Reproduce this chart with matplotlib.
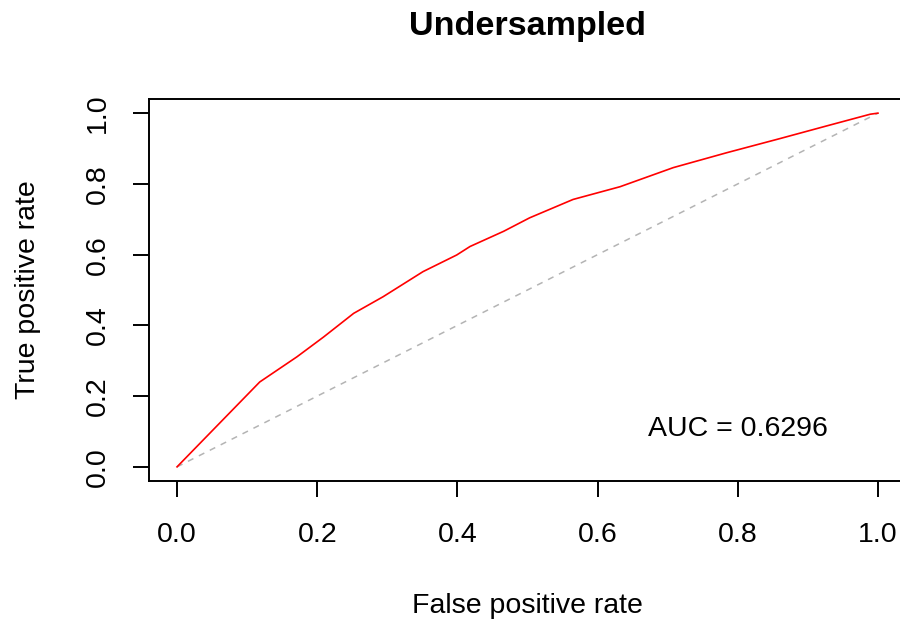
import numpy as np
import matplotlib
matplotlib.use('Agg')
import matplotlib.pyplot as plt

# ROC curve
fpr = [0.0, 0.118, 0.171, 0.209, 0.252, 0.294, 0.351, 0.399, 0.418, 0.466,
       0.503, 0.565, 0.632, 0.708, 0.784, 0.860, 0.927, 0.989, 1.0]
tpr = [0.0, 0.240, 0.311, 0.367, 0.434, 0.481, 0.552, 0.599, 0.623, 0.666,
       0.704, 0.756, 0.792, 0.846, 0.888, 0.928, 0.964, 0.997, 1.0]
auc = 0.6296
ticks = [0.0, 0.2, 0.4, 0.6, 0.8, 1.0]

plt.rcParams['font.family'] = ['Liberation Sans', 'DejaVu Sans']
fs = 20.5

fig = plt.figure(figsize=(9, 6.22), dpi=100)
ax = fig.add_axes([149 / 900, 1 - 481 / 622, 757 / 900, 382 / 622])

ax.plot([0, 1], [0, 1], color='#b4b4b4', lw=1.1, dashes=(4, 4))
ax.plot(fpr, tpr, color='red', lw=1.2)
ax.text(0.8, 0.088, 'AUC = %.4f' % auc, ha='center', va='baseline', fontsize=fs)

ax.set_xlim(-0.04, 1.04)
ax.set_ylim(-0.04, 1.04)
ax.set_xticks(ticks)
ax.set_yticks(ticks)
ax.set_xticklabels(['%.1f' % t for t in ticks])
ax.set_yticklabels(['%.1f' % t for t in ticks], rotation=90, va='center')
ax.tick_params(direction='out', length=11.5, width=1.4, labelsize=fs)
ax.tick_params(axis='x', pad=18)
ax.tick_params(axis='y', pad=16)
for s in ax.spines.values():
    s.set_linewidth(1.4)
ax.spines['right'].set_visible(False)

fig.text(527.5 / 900, 1 - 35 / 622, 'Undersampled', ha='center', va='baseline',
         fontsize=fs * 1.2, fontweight='bold')
fig.text(527.5 / 900, 1 - 613 / 622, 'False positive rate', ha='center',
         va='baseline', fontsize=fs)
fig.text(28 / 900, 1 - 290 / 622, 'True positive rate', ha='center',
         va='center', rotation=90, fontsize=fs)

fig.savefig('out.png', dpi=100)
